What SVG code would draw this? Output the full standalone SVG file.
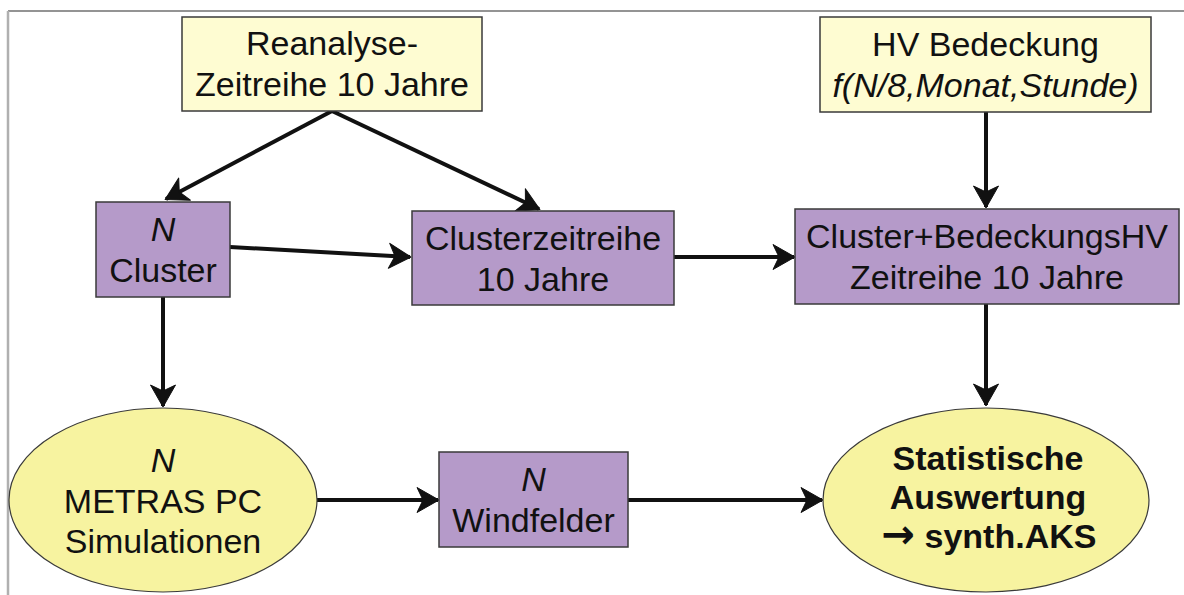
<svg xmlns="http://www.w3.org/2000/svg" width="1184" height="595" viewBox="0 0 1184 595">
  <style>
    .box-in { fill: #FEFCD2; stroke: #3a3a3a; stroke-width: 1.5; }
    .box-proc { fill: #B59AC9; stroke: #3a3a3a; stroke-width: 1.5; }
    .oval { fill: #F7F3A0; stroke: #3a3a3a; stroke-width: 1.2; }
    text { font-family: "Liberation Sans", Arial, sans-serif; font-size: 34px; fill: #111; text-anchor: middle; }
    .it { font-style: italic; }
    .bold { font-weight: bold; }
    .sym { font-family: "DejaVu Sans", sans-serif; font-weight: bold; font-size: 40px; }
    .conn { stroke: #111; stroke-width: 4; fill: none; marker-end: url(#head); }
  </style>
  <defs>
    <marker id="head" markerUnits="userSpaceOnUse" viewBox="-24 -14 26 28" refX="0" refY="0" markerWidth="26" markerHeight="28" orient="auto">
      <path d="M1,0 L-21,-12.5 L-15,0 L-21,12.5 Z" fill="#111" stroke="#111" stroke-width="1" stroke-linejoin="round"/>
    </marker>
  </defs>

  <!-- page frame -->
  <line x1="8" y1="11" x2="1184" y2="11" stroke="#707070" stroke-width="1.5"/>
  <line x1="8" y1="11" x2="8" y2="595" stroke="#b0b0b0" stroke-width="2.5"/>

  <!-- connectors -->
  <g id="connectors">
    <line class="conn" x1="332" y1="111" x2="166" y2="199"/>
    <line class="conn" x1="332" y1="111" x2="539" y2="209"/>
    <line class="conn" x1="230" y1="247" x2="410" y2="257"/>
    <line class="conn" x1="674" y1="257" x2="794" y2="257"/>
    <line class="conn" x1="986" y1="112" x2="986" y2="207"/>
    <line class="conn" x1="163" y1="297" x2="163" y2="406"/>
    <line class="conn" x1="986" y1="304" x2="986" y2="405"/>
    <line class="conn" x1="317" y1="500" x2="438" y2="500"/>
    <line class="conn" x1="628" y1="500" x2="822" y2="500"/>
  </g>

  <g id="reanalyse">
    <rect class="box-in" x="182" y="17" width="300" height="94"/>
    <text x="332" y="55">Reanalyse-</text>
    <text x="332" y="96">Zeitreihe 10 Jahre</text>
  </g>

  <g id="hv-bedeckung">
    <rect class="box-in" x="820" y="17" width="331" height="95"/>
    <text x="985.5" y="56">HV Bedeckung</text>
    <text x="985.5" y="97" class="it">f(N/8,Monat,Stunde)</text>
  </g>

  <g id="n-cluster">
    <rect class="box-proc" x="96" y="202" width="134" height="95"/>
    <text x="163" y="241" class="it">N</text>
    <text x="163" y="282">Cluster</text>
  </g>

  <g id="clusterzeitreihe">
    <rect class="box-proc" x="412" y="211" width="262" height="94"/>
    <text x="543" y="250">Clusterzeitreihe</text>
    <text x="543" y="291">10 Jahre</text>
  </g>

  <g id="cluster-bedeckung">
    <rect class="box-proc" x="795" y="209" width="384" height="95"/>
    <text x="987" y="248">Cluster+BedeckungsHV</text>
    <text x="987" y="289">Zeitreihe 10 Jahre</text>
  </g>

  <g id="metras">
    <ellipse class="oval" cx="163" cy="500" rx="154" ry="92"/>
    <text x="163" y="472" class="it">N</text>
    <text x="163" y="513">METRAS PC</text>
    <text x="163" y="553">Simulationen</text>
  </g>

  <g id="windfelder">
    <rect class="box-proc" x="439" y="452" width="189" height="95"/>
    <text x="533.5" y="491" class="it">N</text>
    <text x="533.5" y="532">Windfelder</text>
  </g>

  <g id="statistik">
    <ellipse class="oval" cx="986" cy="500" rx="163" ry="92"/>
    <text x="988" y="470" class="bold">Statistische</text>
    <text x="988" y="509" class="bold">Auswertung</text>
    <text x="989" y="548" class="bold"><tspan class="sym">→</tspan> synth.AKS</text>
  </g>
</svg>
